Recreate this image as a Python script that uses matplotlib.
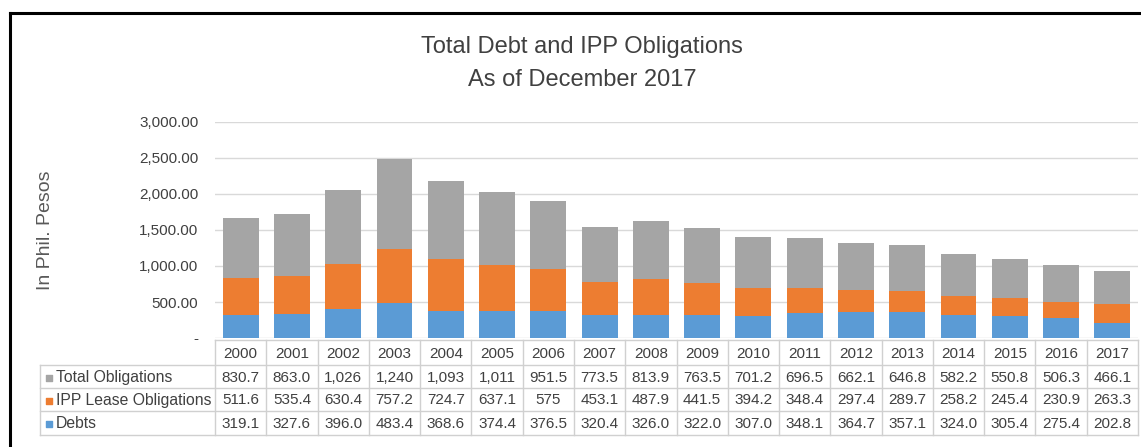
import matplotlib.pyplot as plt
from matplotlib.ticker import FuncFormatter

plt.rcParams['font.family'] = ['Liberation Sans', 'DejaVu Sans']

years = [str(y) for y in range(2000, 2018)]
total_obligations = [830.7, 863.0, 1026, 1240, 1093, 1011, 951.5, 773.5, 813.9,
                     763.5, 701.2, 696.5, 662.1, 646.8, 582.2, 550.8, 506.3, 466.1]
ipp_lease = [511.6, 535.4, 630.4, 757.2, 724.7, 637.1, 575, 453.1, 487.9,
             441.5, 394.2, 348.4, 297.4, 289.7, 258.2, 245.4, 230.9, 263.3]
debts = [319.1, 327.6, 396.0, 483.4, 368.6, 374.4, 376.5, 320.4, 326.0,
         322.0, 307.0, 348.1, 364.7, 357.1, 324.0, 305.4, 275.4, 202.8]

total_labels = ['830.7', '863.0', '1,026', '1,240', '1,093', '1,011', '951.5', '773.5', '813.9',
                '763.5', '701.2', '696.5', '662.1', '646.8', '582.2', '550.8', '506.3', '466.1']
ipp_labels = ['511.6', '535.4', '630.4', '757.2', '724.7', '637.1', '575', '453.1', '487.9',
              '441.5', '394.2', '348.4', '297.4', '289.7', '258.2', '245.4', '230.9', '263.3']
debt_labels = ['319.1', '327.6', '396.0', '483.4', '368.6', '374.4', '376.5', '320.4', '326.0',
               '322.0', '307.0', '348.1', '364.7', '357.1', '324.0', '305.4', '275.4', '202.8']

C_DEBT = '#5B9BD5'
C_IPP = '#ED7D31'
C_TOTAL = '#A5A5A5'
TXT = '#404040'
GRID = '#D9D9D9'

W, H = 1141, 447
fig = plt.figure(figsize=(W / 100, H / 100), dpi=100)

# plot area in pixels
x0, x1 = 215, 1138
y_zero, y_top = 338, 122
ax = fig.add_axes([x0 / W, 1 - y_zero / H, (x1 - x0) / W, (y_zero - y_top) / H])

n = len(years)
xs = range(n)
ax.bar(xs, debts, width=0.7, color=C_DEBT, zorder=3)
bottom2 = debts
ax.bar(xs, ipp_lease, width=0.7, bottom=bottom2, color=C_IPP, zorder=3)
bottom3 = [d + p for d, p in zip(debts, ipp_lease)]
ax.bar(xs, total_obligations, width=0.7, bottom=bottom3, color=C_TOTAL, zorder=3)

ax.set_xlim(-0.5, n - 0.5)
ax.set_ylim(0, 3000)
ax.set_yticks(range(0, 3001, 500))
ax.yaxis.set_major_formatter(FuncFormatter(lambda v, p: '-' if v == 0 else f'{v:,.2f}'))
ax.tick_params(axis='y', length=0, pad=12, labelsize=11, labelcolor=TXT)
ax.set_xticks([])
ax.grid(axis='y', color=GRID, linewidth=1, zorder=0)
for s in ax.spines.values():
    s.set_visible(False)

fig.text(45 / W, 1 - 230 / H, 'In Phil. Pesos', rotation=90, ha='center', va='center',
         fontsize=14, color='#595959')

fig.text(582 / W, 1 - 47 / H, 'Total Debt and IPP Obligations', ha='center', va='center',
         fontsize=17, color=TXT)
fig.text(582 / W, 1 - 80 / H, 'As of December 2017', ha='center', va='center',
         fontsize=17, color=TXT)

# data table drawn in pixel coordinates
tab = fig.add_axes([0, 0, 1, 1])
tab.set_xlim(0, W)
tab.set_ylim(H, 0)
tab.axis('off')

col_w = (x1 - x0) / n
rows_y = [340, 365, 388, 411, 435]
lc = '#D0D0D0'
tab.plot([x0, x1], [rows_y[0], rows_y[0]], color=lc, lw=1)
for yy in rows_y[1:]:
    tab.plot([40, x1], [yy, yy], color=lc, lw=1)
for i in range(n + 1):
    xx = x0 + i * col_w
    tab.plot([xx, xx], [rows_y[0], rows_y[-1]], color=lc, lw=1)
tab.plot([40, 40], [rows_y[1], rows_y[-1]], color=lc, lw=1)

for i, yr in enumerate(years):
    tab.text(x0 + (i + 0.5) * col_w, (rows_y[0] + rows_y[1]) / 2 + 1, yr,
             ha='center', va='center', fontsize=11, color=TXT)

series = [('Total Obligations', C_TOTAL, total_labels),
          ('IPP Lease Obligations', C_IPP, ipp_labels),
          ('Debts', C_DEBT, debt_labels)]
for r, (name, col, labels) in enumerate(series):
    yc = (rows_y[r + 1] + rows_y[r + 2]) / 2 + 1
    tab.scatter([49], [yc], marker='s', s=22, color=col)
    tab.text(56, yc, name, ha='left', va='center', fontsize=11.3, color=TXT)
    for i, lab in enumerate(labels):
        tab.text(x0 + (i + 0.5) * col_w, yc, lab, ha='center', va='center',
                 fontsize=11, color=TXT)

# outer frame
tab.plot([10, W], [13, 13], color='black', lw=2.2)
tab.plot([10, 10], [13, H], color='black', lw=2.2)

fig.savefig('out.png', dpi=100)
